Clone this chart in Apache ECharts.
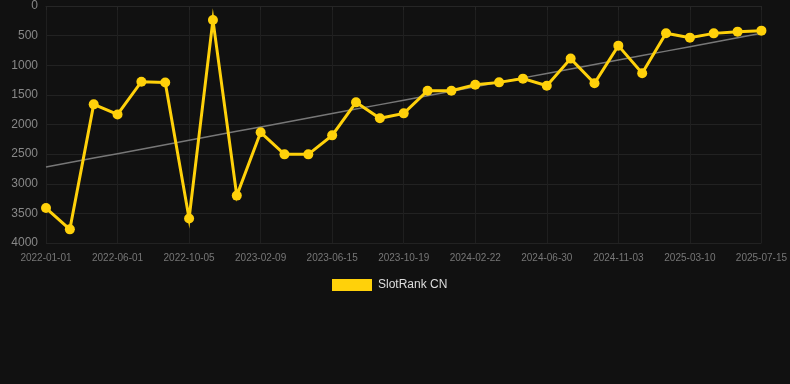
<!DOCTYPE html>
<html>
<head>
<meta charset="utf-8">
<script src="https://cdn.jsdelivr.net/npm/echarts@6/dist/echarts.min.js"></script>
<style>
  html, body { margin: 0; padding: 0; background: #111111; }
  #chart { width: 790px; height: 384px; }
</style>
</head>
<body>
<div id="chart"></div>
<script>
var dates = ['2022-01-01', '2022-02-20', '2022-04-11', '2022-06-01', '2022-07-13', '2022-08-24',
  '2022-10-05', '2022-11-16', '2022-12-28', '2023-02-09', '2023-03-23', '2023-05-04',
  '2023-06-15', '2023-07-27', '2023-09-07', '2023-10-19', '2023-11-30', '2024-01-11',
  '2024-02-22', '2024-04-05', '2024-05-18', '2024-06-30', '2024-08-11', '2024-09-22',
  '2024-11-03', '2024-12-15', '2025-01-27', '2025-03-10', '2025-04-20', '2025-06-01',
  '2025-07-15'];

var rankCN = [3410, 3770, 1660, 1830, 1277, 1290, 3585, 236, 3200, 2132, 2504, 2504,
  2183, 1626, 1896, 1812, 1429, 1429, 1328, 1289, 1226, 1345, 888, 1305,
  669, 1136, 460, 534, 462, 433, 416];

var yTicks = [0, 500, 1000, 1500, 2000, 2500, 3000, 3500, 4000];

// least squares trend over the index
var n = rankCN.length, sx = 0, sy = 0, sxy = 0, sxx = 0;
rankCN.forEach(function (v, i) { sx += i; sy += v; sxy += i * v; sxx += i * i; });
var slope = (n * sxy - sx * sy) / (n * sxx - sx * sx);
var intercept = (sy - slope * sx) / n;
var trend = rankCN.map(function (v, i) { return +(intercept + slope * i).toFixed(1); });

var myChart = echarts.init(document.getElementById('chart'));

var option = {
  backgroundColor: '#111111',
  animation: false,
  grid: { left: 46, right: 28, top: 6, bottom: 141 },
  legend: {
    top: 274,
    left: 327,
    itemWidth: 40,
    itemHeight: 12,
    data: [{ name: 'SlotRank CN', icon: 'rect' }],
    textStyle: { color: '#dddddd', fontSize: 12, padding: [0, 0, 0, 1],
      fontFamily: 'Liberation Sans, Arial, sans-serif' }
  },
  xAxis: {
    type: 'category',
    boundaryGap: false,
    data: dates,
    axisLine: { show: true, lineStyle: { color: '#262626' } },
    axisTick: { show: true, interval: 2, length: 4, lineStyle: { color: '#262626' } },
    axisLabel: { interval: 2, color: '#777777', fontSize: 10, margin: 10,
      fontFamily: 'Liberation Sans, Arial, sans-serif' },
    splitLine: { show: true, interval: 2, lineStyle: { color: '#1f1f1f' } }
  },
  yAxis: {
    type: 'value',
    inverse: true,
    min: yTicks[0],
    max: yTicks[yTicks.length - 1],
    interval: yTicks[1] - yTicks[0],
    axisLine: { show: false },
    axisTick: { show: false },
    axisLabel: { color: '#888888', fontSize: 12, margin: 8,
      formatter: function (v) { return String(v); },
      fontFamily: 'Liberation Sans, Arial, sans-serif' },
    splitLine: { lineStyle: { color: '#222222' } }
  },
  series: [
    {
      name: 'Trend',
      type: 'line',
      data: trend,
      symbol: 'none',
      silent: true,
      lineStyle: { color: '#777777', width: 1.5 },
      z: 1
    },
    {
      name: 'SlotRank CN',
      type: 'line',
      data: rankCN,
      symbol: 'circle',
      symbolSize: 10,
      color: '#ffd10a',
      itemStyle: { color: '#ffd10a' },
      lineStyle: { color: '#ffd10a', width: 3, join: 'miter', miterLimit: 10 },
      z: 2
    }
  ]
};

myChart.setOption(option);

window.onresize = function () {
  myChart.resize();
};
</script>
</body>
</html>
